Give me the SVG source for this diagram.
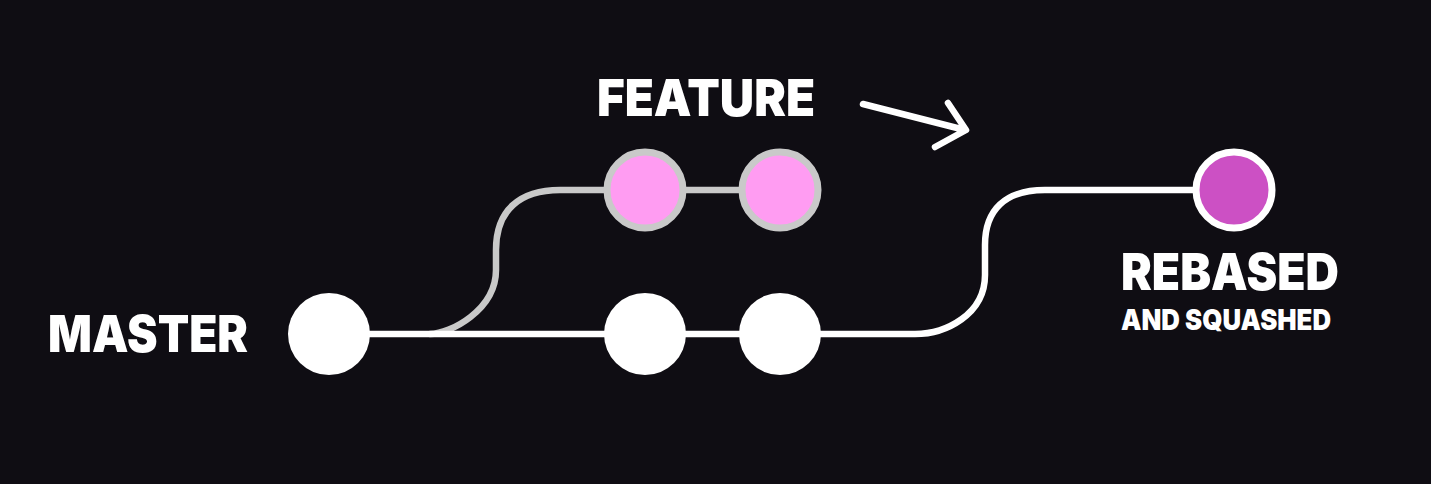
<svg xmlns="http://www.w3.org/2000/svg" width="1431" height="484" viewBox="0 0 1431 484">
<style>
.lbl{font-family:Inter,"Liberation Sans",sans-serif;font-weight:900;fill:#ffffff}
.big{font-size:51px}
.small{font-size:29px}
.wline{fill:none;stroke:#ffffff;stroke-width:6.5;stroke-linecap:round}
.gline{fill:none;stroke:#c9c9c9;stroke-width:6.5;stroke-linecap:round}
.master{fill:#ffffff}
.feat{fill:#ff9cf2;stroke:#c9c9c9;stroke-width:7}
.rebased{fill:#cc50c4;stroke:#ffffff;stroke-width:7}
</style>
<rect width="1431" height="484" fill="#0f0d13"/>
<g id="connectors">
<path class="gline" d="M 430 334 C 450 334 496 310 496 270 L 496 250 C 496 210 520 190 560 190 L 780 190"/>
<path class="wline" d="M 329 334 L 915 334 C 945 334 985 315 985 275 L 985 245 C 985 210 1005 190 1045 190 L 1234 190"/>
<path class="wline" d="M 863 104 L 965 130 M 948 103 L 966 130 L 935 147" stroke-linejoin="round"/>
</g>
<g id="node-master-1"><circle class="master" cx="329" cy="334" r="41"/></g>
<g id="node-master-2"><circle class="master" cx="645" cy="334" r="41"/></g>
<g id="node-master-3"><circle class="master" cx="780" cy="334" r="41"/></g>
<g id="node-feature-1"><circle class="feat" cx="645" cy="190" r="38"/></g>
<g id="node-feature-2"><circle class="feat" cx="780" cy="190" r="38"/></g>
<g id="node-rebased"><circle class="rebased" cx="1234" cy="190" r="38"/></g>
<g id="labels">
<text class="lbl big" x="48" y="352" textLength="200" lengthAdjust="spacingAndGlyphs">MASTER</text>
<text class="lbl big" x="597" y="116" textLength="218" lengthAdjust="spacingAndGlyphs">FEATURE</text>
<text class="lbl big" x="1121" y="290" textLength="218" lengthAdjust="spacingAndGlyphs">REBASED</text>
<text class="lbl small" x="1121" y="330" textLength="210" lengthAdjust="spacingAndGlyphs">AND SQUASHED</text>
</g>
</svg>
